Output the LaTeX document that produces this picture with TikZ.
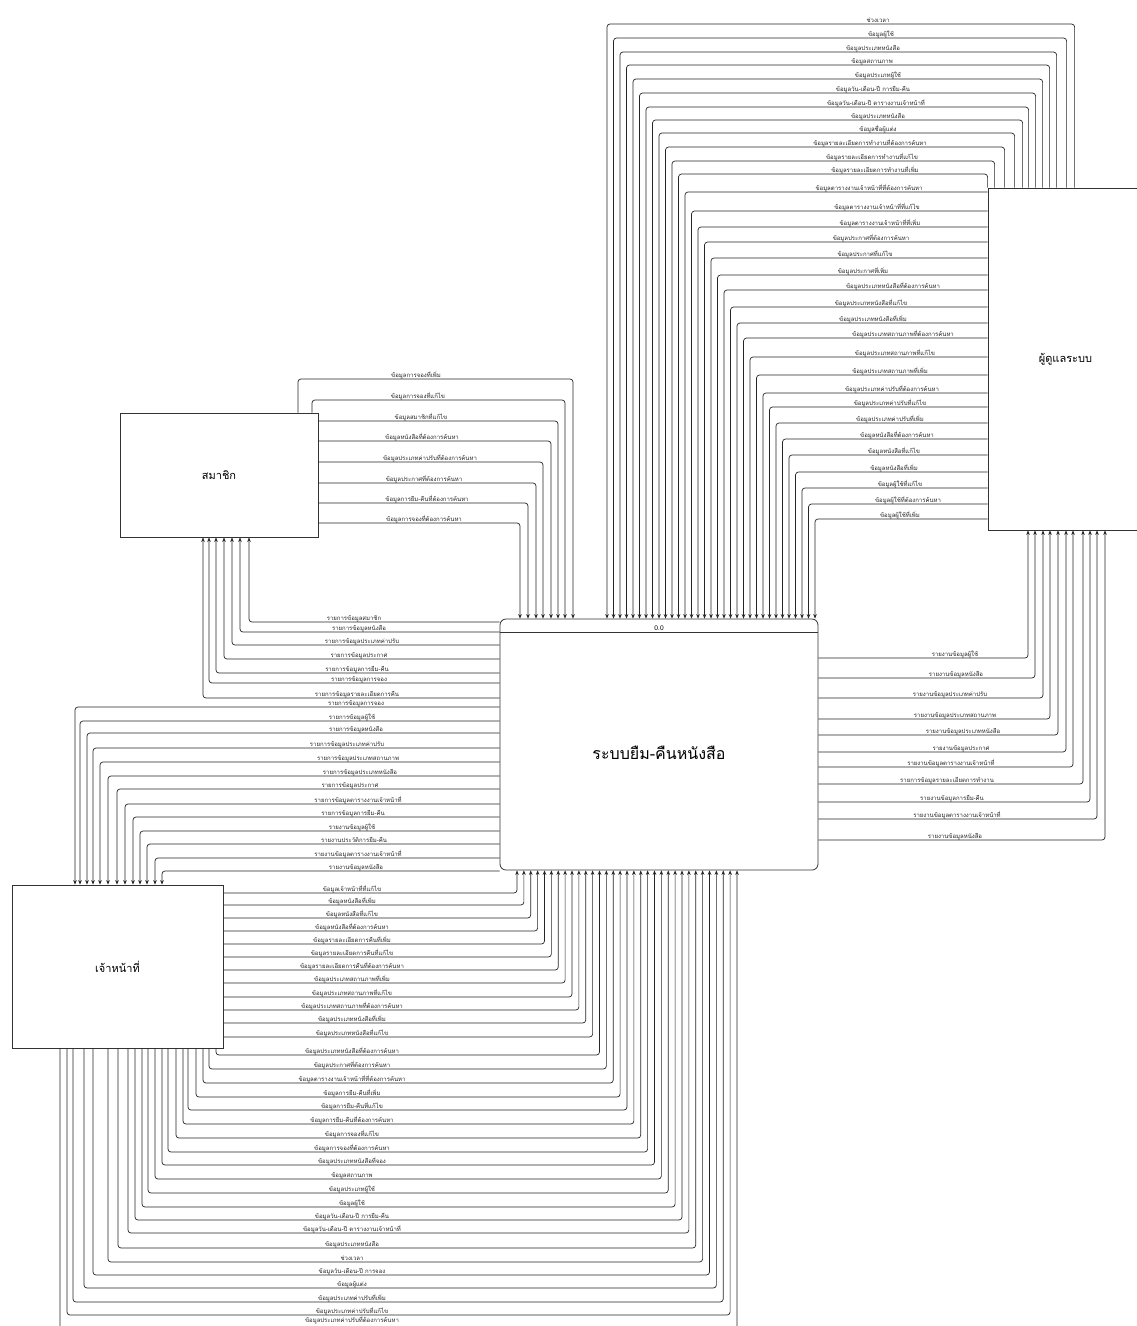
\documentclass[tikz,border=0pt]{standalone}
\usepackage{fontspec}
\newfontfamily\thai[Script=Thai]{Loma}
\usetikzlibrary{arrows.meta}
\begin{document}
\begin{tikzpicture}[x=1pt,y=-1pt,
  flow/.style={draw=black!85, line width=0.7pt, rounded corners=3pt, -{Stealth[length=4.5pt,width=3.6pt]}},
  lbl/.style={font=\thai\fontsize{6}{7}\selectfont, text=black!85, inner sep=0pt, anchor=base},
  box/.style={draw=black!80, line width=0.8pt, fill=white, inner sep=0pt, font=\thai\fontsize{11}{13}\selectfont}]
\useasboundingbox (0,0) rectangle (1137,1326);
\fill[white] (0,0) rectangle (1137,1326);

% boxes
\node[box, minimum width=198pt, minimum height=124pt] (member) at (219,475) {สมาชิก};
\node[box, minimum width=155pt, minimum height=342pt] (admin) at (1065.5,359) {ผู้ดูแลระบบ};
\node[box, minimum width=211pt, minimum height=163pt] (staff) at (117.5,966.5) {เจ้าหน้าที่};
\node[box, rounded corners=6pt, minimum width=318pt, minimum height=251pt] (main) at (659,744.5) {};
\node[font=\thai\fontsize{16}{18}\selectfont, inner sep=0pt] (maintitle) at (659,753) {ระบบยืม-คืนหนังสือ};
\draw[black!80, line width=0.8pt] (main.west |- 0,632) -- (main.east |- 0,632);
\node[font=\sffamily\fontsize{7}{8}\selectfont, anchor=base, inner sep=0pt] (mainid) at (659,630.5) {0.0};

% A: admin -> main (top of admin)
\foreach \xa/\y/\i/\cx/\t in {
87/24/0/878/ช่วงเวลา,
79/38/1/881/ข้อมูลผู้ใช้,
69/52/2/873/ข้อมูลประเภทหนังสือ,
62/65/3/872/ข้อมูลสถานภาพ,
55/79/4/878/ข้อมูลประเภทผู้ใช้,
48/93/5/873/ข้อมูลวัน-เดือน-ปี การยืม-คืน,
41/107/6/876/ข้อมูลวัน-เดือน-ปี ตารางงานเจ้าหน้าที่,
35/120/7/878/ข้อมูลประเภทหนังสือ,
27/133/8/878/ข้อมูลชื่อผู้แต่ง,
17/147/9/870/ข้อมูลรายละเอียดการทำงานที่ต้องการค้นหา,
7/161/10/872/ข้อมูลรายละเอียดการทำงานที่แก้ไข,
0/174/11/875/ข้อมูลรายละเอียดการทำงานที่เพิ่ม}{
  \pgfmathsetmacro\xm{607+\i*6.5}
  \draw[flow] ([xshift=\xa pt]admin.north west) |- (\xm,\y) -- (main.north -| \xm,0);
  \node[lbl] (la\i) at (\cx,\y-2) {\t};
}
% A: admin -> main (left side of admin)
\foreach \y/\i/\cx/\t in {
192/12/869/ข้อมูลตารางงานเจ้าหน้าที่ที่ต้องการค้นหา,
211/13/877/ข้อมูลตารางงานเจ้าหน้าที่ที่แก้ไข,
227/14/880/ข้อมูลตารางงานเจ้าหน้าที่ที่เพิ่ม,
242/15/871/ข้อมูลประกาศที่ต้องการค้นหา,
258/16/865/ข้อมูลประกาศที่แก้ไข,
275/17/863/ข้อมูลประกาศที่เพิ่ม,
290/18/893/ข้อมูลประเภทหนังสือที่ต้องการค้นหา,
307/19/871/ข้อมูลประเภทหนังสือที่แก้ไข,
323/20/873/ข้อมูลประเภทหนังสือที่เพิ่ม,
338/21/903/ข้อมูลประเภทสถานภาพที่ต้องการค้นหา,
357/22/895/ข้อมูลประเภทสถานภาพที่แก้ไข,
375/23/890/ข้อมูลประเภทสถานภาพที่เพิ่ม,
393/24/892/ข้อมูลประเภทค่าปรับที่ต้องการค้นหา,
407/25/890/ข้อมูลประเภทค่าปรับที่แก้ไข,
423/26/890/ข้อมูลประเภทค่าปรับที่เพิ่ม,
439/27/897/ข้อมูลหนังสือที่ต้องการค้นหา,
455/28/894/ข้อมูลหนังสือที่แก้ไข,
472/29/894/ข้อมูลหนังสือที่เพิ่ม,
488/30/900/ข้อมูลผู้ใช้ที่แก้ไข,
504/31/908/ข้อมูลผู้ใช้ที่ต้องการค้นหา,
519/32/900/ข้อมูลผู้ใช้ที่เพิ่ม}{
  \pgfmathsetmacro\xm{607+\i*6.5}
  \draw[flow] (admin.west |- 0,\y) -- (\xm,\y) -- (main.north -| \xm,0);
  \node[lbl] (la\i) at (\cx,\y-2) {\t};
}

% B: member -> main
\draw[flow] (member.north -| 298,0) |- (573,379) -- (main.north -| 573,0);
\node[lbl] (lb1) at (416,377) {ข้อมูลการจองที่เพิ่ม};
\draw[flow] (member.north -| 312,0) |- (565,400) -- (main.north -| 565,0);
\node[lbl] (lb2) at (418,398) {ข้อมูลการจองที่แก้ไข};
\foreach \y/\xm/\cx/\t/\i in {
421/558/421/ข้อมูลสมาชิกที่แก้ไข/3,
441/551/422/ข้อมูลหนังสือที่ต้องการค้นหา/4,
462/543/430/ข้อมูลประเภทค่าปรับที่ต้องการค้นหา/5,
483/536/424/ข้อมูลประกาศที่ต้องการค้นหา/6,
503/528/427/ข้อมูลการยืม-คืนที่ต้องการค้นหา/7,
523/520/424/ข้อมูลการจองที่ต้องการค้นหา/8}{
  \draw[flow] (member.east |- 0,\y) -- (\xm,\y) -- (main.north -| \xm,0);
  \node[lbl] (lb\i) at (\cx,\y-2) {\t};
}

% C: main -> member
\foreach \y/\x/\cx/\t/\i in {
622/249/354/รายการข้อมูลสมาชิก/1,
632/240/359/รายการข้อมูลหนังสือ/2,
645/232/362/รายการข้อมูลประเภทค่าปรับ/3,
659/224/359/รายการข้อมูลประกาศ/4,
673/216/357/รายการข้อมูลการยืม-คืน/5,
683/209/359/รายการข้อมูลการจอง/6,
698/203/357/รายการข้อมูลรายละเอียดการคืน/7}{
  \draw[flow] (main.west |- 0,\y) -| (member.south -| \x,0);
  \node[lbl] (lc\i) at (\cx,\y-2) {\t};
}

% D: main -> staff
\foreach \y/\x/\cx/\t/\i in {
707/75/356/รายการข้อมูลการจอง/1,
721/80/352/รายการข้อมูลผู้ใช้/2,
733/87/356/รายการข้อมูลหนังสือ/3,
748/93/347/รายการข้อมูลประเภทค่าปรับ/4,
762/100/358/รายการข้อมูลประเภทสถานภาพ/5,
776/108/360/รายการข้อมูลประเภทหนังสือ/6,
789/117/350/รายการข้อมูลประกาศ/7,
804/125/358/รายการข้อมูลตารางงานเจ้าหน้าที่/8,
817/133/353/รายการข้อมูลการยืม-คืน/9,
831/140/352/รายงานข้อมูลผู้ใช้/10,
844/147/354/รายงานประวัติการยืม-คืน/11,
858/155/358/รายงานข้อมูลตารางงานเจ้าหน้าที่/12,
871/162/356/รายงานข้อมูลหนังสือ/13}{
  \draw[flow] (main.west |- 0,\y) -| (staff.north -| \x,0);
  \node[lbl] (ld\i) at (\cx,\y-2) {\t};
}

% E: main -> admin
\foreach \y/\x/\cx/\t/\i in {
658/1028/955/รายงานข้อมูลผู้ใช้/1,
678/1035/956/รายงานข้อมูลหนังสือ/2,
698/1043/950/รายงานข้อมูลประเภทค่าปรับ/3,
719/1050/955/รายงานข้อมูลประเภทสถานภาพ/4,
735/1058/963/รายงานข้อมูลประเภทหนังสือ/5,
752/1066/961/รายงานข้อมูลประกาศ/6,
767/1073/951/รายงานข้อมูลตารางงานเจ้าหน้าที่/7,
784/1083/947/รายการข้อมูลรายละเอียดการทำงาน/8,
802/1090/952/รายงานข้อมูลการยืม-คืน/9,
819/1097/957/รายงานข้อมูลตารางงานเจ้าหน้าที่/10,
840/1105/955/รายงานข้อมูลหนังสือ/11}{
  \draw[flow] (main.east |- 0,\y) -| (admin.south -| \x,0);
  \node[lbl] (le\i) at (\cx,\y-2) {\t};
}

% F: staff -> main (right side of staff)
\foreach \y/\i/\t in {
893/0/ข้อมูลเจ้าหน้าที่ที่แก้ไข,
905/1/ข้อมูลหนังสือที่เพิ่ม,
918/2/ข้อมูลหนังสือที่แก้ไข,
931/3/ข้อมูลหนังสือที่ต้องการค้นหา,
944/4/ข้อมูลรายละเอียดการคืนที่เพิ่ม,
957/5/ข้อมูลรายละเอียดการคืนที่แก้ไข,
970/6/ข้อมูลรายละเอียดการคืนที่ต้องการค้นหา,
983/7/ข้อมูลประเภทสถานภาพที่เพิ่ม,
997/8/ข้อมูลประเภทสถานภาพที่แก้ไข,
1010/9/ข้อมูลประเภทสถานภาพที่ต้องการค้นหา,
1023/10/ข้อมูลประเภทหนังสือที่เพิ่ม,
1037/11/ข้อมูลประเภทหนังสือที่แก้ไข}{
  \pgfmathsetmacro\xm{517+\i*6.875}
  \draw[flow] (staff.east |- 0,\y) -| (main.south -| \xm,0);
  \node[lbl] (lf\i) at (352,\y-2) {\t};
}
% F: staff -> main (bottom of staff)
\foreach \y/\i/\xs/\t in {
1055/12/216/ข้อมูลประเภทหนังสือที่ต้องการค้นหา,
1069/13/209/ข้อมูลประกาศที่ต้องการค้นหา,
1083/14/203/ข้อมูลตารางงานเจ้าหน้าที่ที่ต้องการค้นหา,
1097/15/196/ข้อมูลการยืม-คืนที่เพิ่ม,
1110/16/188/ข้อมูลการยืม-คืนที่แก้ไข,
1124/17/183/ข้อมูลการยืม-คืนที่ต้องการค้นหา,
1138/18/176/ข้อมูลการจองที่แก้ไข,
1152/19/168/ข้อมูลการจองที่ต้องการค้นหา,
1165/20/162/ข้อมูลประเภทหนังสือที่จอง,
1179/21/155/ข้อมูลสถานภาพ,
1193/22/148/ข้อมูลประเภทผู้ใช้,
1207/23/142/ข้อมูลผู้ใช้,
1220/24/135/ข้อมูลวัน-เดือน-ปี การยืม-คืน,
1233/25/128/ข้อมูลวัน-เดือน-ปี ตารางงานเจ้าหน้าที่,
1248/26/118/ข้อมูลประเภทหนังสือ,
1262/27/108/ช่วงเวลา,
1275/28/93/ข้อมูลวัน-เดือน-ปี การจอง,
1288/29/84/ข้อมูลผู้แต่ง,
1302/30/73/ข้อมูลประเภทค่าปรับที่เพิ่ม,
1315/31/67/ข้อมูลประเภทค่าปรับที่แก้ไข,
1329/32/60/ข้อมูลประเภทค่าปรับที่ต้องการค้นหา}{
  \pgfmathsetmacro\xm{517+\i*6.875}
  \pgfmathsetmacro\ly{min(\y-2,1322.5)}
  \draw[flow] (staff.south -| \xs,0) |- (\xm,\y) -- (main.south -| \xm,0);
  \node[lbl] (lf\i) at (352,\ly) {\t};
}
\end{tikzpicture}
\end{document}
